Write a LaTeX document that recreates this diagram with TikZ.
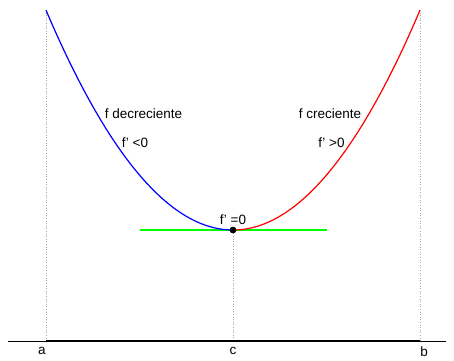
\documentclass[tikz,border=0pt]{standalone}
\usepackage{fontspec}
\setmainfont{Liberation Sans}
\usepackage{tikz}
\usetikzlibrary{positioning,calc}
\tikzset{
  lbl/.style={font=\fontsize{13.5}{15}\selectfont, inner sep=1pt},
  guide/.style={dotted, gray!70, line width=0.6pt},
  curve/.style={line width=1.2pt, smooth, samples=60}
}

\begin{document}
\begin{tikzpicture}[x=1pt,y=1pt]
  \useasboundingbox (0,0) rectangle (454,360);
  \coordinate (pa) at (46,19);
  \coordinate (pc) at (233,19);
  \coordinate (pb) at (420,19);
  \coordinate (ta) at (46,350);
  \coordinate (tb) at (420,350);
  \coordinate (axl) at (8,19);
  \coordinate (axr) at (446,19);
  \coordinate (tl) at (140,130);
  \coordinate (tr) at (327,130);
  \node[circle, fill=black, inner sep=0pt, minimum size=6.5pt] (vert) at (233,130) {};
  % guides
  \draw[guide] (ta) -- (pa);
  \draw[guide] (tb) -- (pb);
  \draw[guide] (vert) -- (pc);
  % axis
  \draw[line width=0.6pt] (axl) -- (axr);
  \draw[line width=1.6pt] (pa) -- (pb);
  \node[lbl, below=5pt of pa, xshift=-4pt] (la) {a};
  \node[lbl, below=5pt of pc] (lc) {c};
  \node[lbl, below=5pt of pb, xshift=4pt] (lb) {b};
  % tangent and curve
  \draw[green, line width=1.2pt] (tl) -- (tr);
  \draw[curve, blue, domain=46:233] plot (\x, {130+0.006291*(\x-233)*(\x-233)});
  \draw[curve, red, domain=233:420] plot (\x, {130+0.006291*(\x-233)*(\x-233)});
  \node[circle, fill=black, inner sep=0pt, minimum size=6.5pt] at (vert) {};
  % texts
  \node[lbl] (dec) at (143.5,246) {f decreciente};
  \node[lbl] (neg) at (135,217) {f' <0};
  \node[lbl] (cre) at (330,246) {f creciente};
  \node[lbl] (pos) at (331.5,217) {f' >0};
  \node[lbl, above=1pt of vert] (zero) {f' =0};
\end{tikzpicture}
\end{document}
